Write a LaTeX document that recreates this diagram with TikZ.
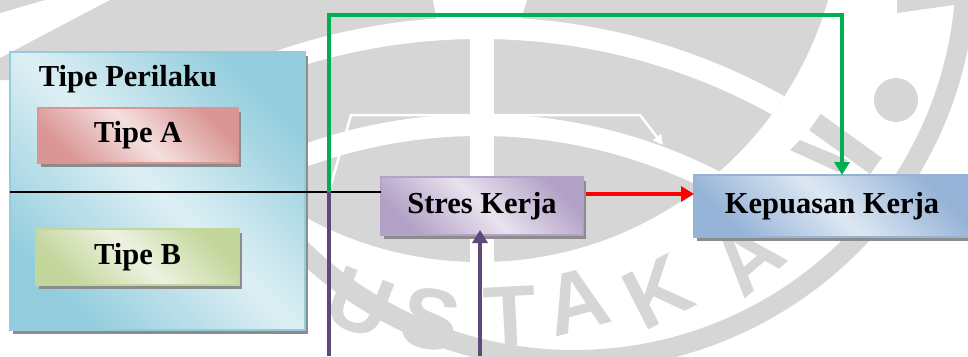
\documentclass[tikz,border=0pt]{standalone}
\usepackage{fontspec}
\setmainfont{Liberation Serif}
\newfontfamily\wmfont{Liberation Sans Bold}
\usetikzlibrary{arrows.meta,shadows}
\definecolor{wmgrey}{HTML}{D6D6D6}
\definecolor{shadowgrey}{HTML}{8C8C8C}
\definecolor{outerc}{HTML}{93CDDD}
\definecolor{outerl}{HTML}{DDEFF4}
\definecolor{pinkc}{HTML}{D99694}
\definecolor{pinkl}{HTML}{F4E0DF}
\definecolor{greenc}{HTML}{C3D69B}
\definecolor{greenl}{HTML}{EDF2E0}
\definecolor{purc}{HTML}{B3A2C7}
\definecolor{purl}{HTML}{E8E2EE}
\definecolor{bluc}{HTML}{95B3D7}
\definecolor{blul}{HTML}{DDE7F2}
\definecolor{arrowgreen}{HTML}{00B050}
\definecolor{arrowpurple}{HTML}{5F497A}
\tikzset{
  lbl/.style={font=\bfseries\fontsize{30.5}{36}\selectfont},
  gbox/.style 2 args={draw=#1, line width=1.5pt, top color=#1, bottom color=#1,
    middle color=#2, shading angle=-45, inner sep=0pt, outer sep=0pt,
    general shadow={fill=shadowgrey, shadow xshift=3pt, shadow yshift=-4pt}, lbl},
  wmletter/.style={font=\wmfont\fontsize{86}{86}\selectfont, text=wmgrey, inner sep=0pt},
  tipbig/.style={-{Triangle[width=15pt,length=13pt]}},
  greenline/.style={draw=arrowgreen, line width=3.2pt, tipbig},
  redline/.style={draw=red, line width=3.5pt, tipbig},
  purpleline/.style={draw=arrowpurple, line width=3.2pt},
  purplearrow/.style={draw=arrowpurple, line width=3.2pt, tipbig},
  blackline/.style={draw=black, line width=1.6pt},
  whiteline/.style={draw=white, line width=2.5pt, -{Triangle[width=10pt,length=10pt]}},
}
\begin{document}
\begin{tikzpicture}[x=1pt,y=-1pt]
\useasboundingbox (0,0) rectangle (968,356);
\clip (0,0) rectangle (968,356);

% watermark
\fill[wmgrey] (0,0) -- (45,0) -- (0,13) -- cycle;
\fill[wmgrey] (110,0) -- (300,0) -- (300,80) -- (0,80) -- (0,58) -- cycle;
\fill[wmgrey] (480,-100) circle [radius=362pt];
\begin{scope}
  \clip (480,-100) circle [radius=362pt];
  \draw[white, line width=22pt] (480,640) circle [radius=612pt];
  \draw[white, line width=22pt] (480,640) circle [radius=515pt];
  \fill[white] (470,0) rectangle (494,300);
  \fill[white] (433,0) -- (527,0) -- (520,22) -- (437,22) -- cycle;
\end{scope}
\draw[wmgrey, line width=20pt] (574,-32) circle [radius=392pt];
\fill[wmgrey] (897,0) -- (968,0) -- (968,3) -- (897,13) -- cycle;
\fill[wmgrey] (896,100) circle [radius=22pt];
\draw[wmgrey, line width=20pt] (815,122) -- (876,166);
\fill[wmgrey] (790,150) -- (800,140) -- (848,160) -- (838,172) -- cycle;
\node[wmletter, rotate=-21] (wmU) at (360,303) {U};
\node[wmletter, rotate=-10] (wmS) at (431,319) {S};
\node[wmletter, rotate=3] (wmT) at (510,317) {T};
\node[wmletter, rotate=15] (wmA) at (577,301) {A};
\node[wmletter, rotate=27] (wmK) at (658,292) {K};
\node[wmletter, rotate=41] (wmAA) at (748,258) {A};

% boxes
\node[gbox={outerc}{outerl}, minimum width=295pt, minimum height=278pt] (perilaku) at (157.5,191) {};
\node[lbl] (perilakutitle) at (128,79) {Tipe Perilaku};
\node[gbox={pinkc}{pinkl}, minimum width=200pt, minimum height=55pt] (tipeA) at (138,135.5) {Tipe A};
\node[gbox={greenc}{greenl}, minimum width=203pt, minimum height=56pt] (tipeB) at (137.5,257) {Tipe B};
\node[gbox={purc}{purl}, minimum width=202pt, minimum height=58pt] (stres) at (482,206) {Stres Kerja};
\node[gbox={bluc}{blul}, minimum width=276pt, minimum height=62pt] (kepuasan) at (832,206) {Kepuasan Kerja};

% connectors
\coordinate (jn) at (329,192);
\coordinate (pb1) at (329,356);
\coordinate (pb2) at (480,356);
\coordinate (redy) at (640,194);
\coordinate (gtop) at (842,15);
\coordinate (w0) at (330,188);
\coordinate (w1) at (351,115);
\coordinate (w2) at (640,115);
\coordinate (w3) at (663,145);

\draw[whiteline] (w0) -- (w1) -- (w2) -- (w3);
\draw[blackline] (perilaku.west |- jn) -- (stres.west |- jn);
\draw[purpleline] (jn) -- (pb1);
\draw[purplearrow, shorten >=-5pt] (pb2) -- (pb2 |- stres.south);
\draw[redline] ([xshift=3pt]stres.east |- redy) -- (kepuasan.west |- redy);
\draw[greenline] (jn) |- (gtop) -- (gtop |- kepuasan.north);
\end{tikzpicture}
\end{document}
